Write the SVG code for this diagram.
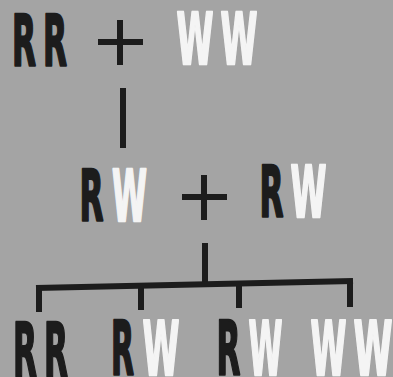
<svg xmlns="http://www.w3.org/2000/svg" width="393" height="377" viewBox="0 0 393 377">
<style>
.r{font-family:"DejaVu Sans","Liberation Sans",sans-serif;font-weight:bold;font-size:71px;fill:#1c1c1c;stroke:#1c1c1c;stroke-width:2.5;stroke-linejoin:round;text-anchor:middle}
.w{font-family:"DejaVu Sans","Liberation Sans",sans-serif;font-weight:bold;font-size:71px;fill:#f4f4f4;stroke:#f4f4f4;stroke-width:2.5;stroke-linejoin:round;text-anchor:middle}
.b{font-size:75px}
.ln{stroke:#1c1c1c;stroke-width:6;fill:none;stroke-linecap:butt}
</style>
<rect width="393" height="377" fill="#a4a4a4"/>
<g id="parents">
<text class="r" x="24" y="66" textLength="24" lengthAdjust="spacingAndGlyphs">R</text>
<text class="r" x="55" y="66" textLength="24" lengthAdjust="spacingAndGlyphs">R</text>
<path class="ln" d="M98 42H143M120 20V65"/>
<text class="w" x="195" y="64" textLength="37" lengthAdjust="spacingAndGlyphs">W</text>
<text class="w" x="239" y="64" textLength="37" lengthAdjust="spacingAndGlyphs">W</text>
</g>
<g id="f1">
<text class="r" x="91.5" y="221" textLength="24" lengthAdjust="spacingAndGlyphs">R</text>
<text class="w" x="129.5" y="221" textLength="35" lengthAdjust="spacingAndGlyphs">W</text>
<path class="ln" d="M182 197H227M204 175V220"/>
<text class="r" x="271.5" y="217" textLength="24" lengthAdjust="spacingAndGlyphs">R</text>
<text class="w" x="308.5" y="217" textLength="36" lengthAdjust="spacingAndGlyphs">W</text>
</g>
<g id="f2">
<text class="r b" x="25" y="377" textLength="24" lengthAdjust="spacingAndGlyphs">R</text>
<text class="r b" x="56" y="377" textLength="24" lengthAdjust="spacingAndGlyphs">R</text>
<text class="r b" x="122.5" y="375" textLength="23" lengthAdjust="spacingAndGlyphs">R</text>
<text class="w b" x="161" y="375" textLength="37" lengthAdjust="spacingAndGlyphs">W</text>
<text class="r b" x="228.5" y="375" textLength="24" lengthAdjust="spacingAndGlyphs">R</text>
<text class="w b" x="265.5" y="375" textLength="34" lengthAdjust="spacingAndGlyphs">W</text>
<text class="w b" x="328.5" y="375" textLength="36" lengthAdjust="spacingAndGlyphs">W</text>
<text class="w b" x="373" y="375" textLength="39" lengthAdjust="spacingAndGlyphs">W</text>
</g>
<g id="connectors">
<path class="ln" d="M123 88V148"/>
<path class="ln" d="M205 243V285"/>
<path class="ln" d="M36 288L353 281"/>
<path class="ln" d="M39 288V312M141 285.5V310M239 283.5V308M350 281V307"/>
</g>
</svg>
